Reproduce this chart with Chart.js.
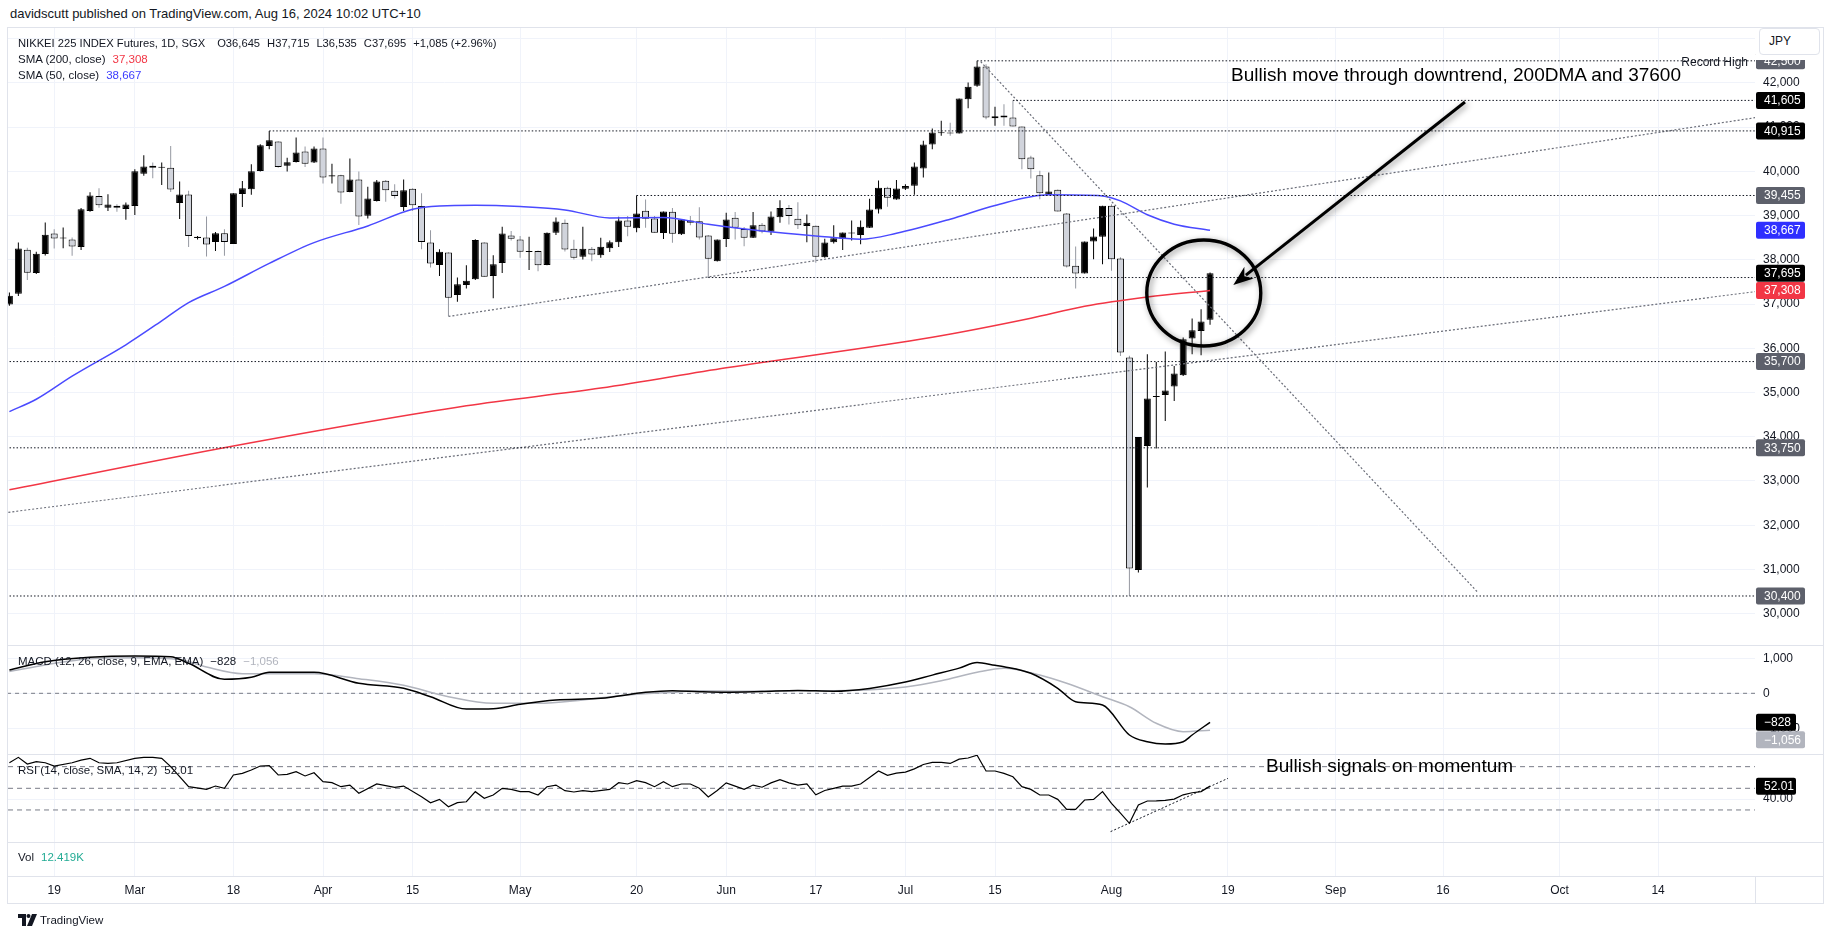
<!DOCTYPE html>
<html><head><meta charset="utf-8">
<script src="https://cdn.jsdelivr.net/npm/chart.js@4.4.1/dist/chart.umd.min.js"></script>
<style>
html,body{margin:0;padding:0;background:#fff;width:1835px;height:939px;overflow:hidden;font-family:"Liberation Sans",Arial,sans-serif;color:#131722}
.abs{position:absolute;white-space:nowrap}
canvas{position:absolute}
.sep{position:absolute;left:8px;width:1815px;height:1px;background:#e0e3eb}
.lg{font-size:11.5px;line-height:14px}
.g{margin-left:7px}
</style></head><body>

<div class="abs" style="left:10px;top:6px;font-size:13px;line-height:16px">davidscutt published on TradingView.com, Aug 16, 2024 10:02 UTC+10</div>

<canvas id="cMain" width="1815" height="617" style="left:8px;top:28px"></canvas>
<canvas id="cMacd" width="1815" height="109" style="left:8px;top:645px"></canvas>
<canvas id="cRsi" width="1815" height="88" style="left:8px;top:754px"></canvas>
<canvas id="cVol" width="1815" height="61" style="left:8px;top:842px"></canvas>

<div class="abs" style="left:7px;top:27px;width:1817px;height:877px;border:1px solid #e0e3eb;box-sizing:border-box"></div>
<div class="sep" style="top:645px"></div>
<div class="sep" style="top:754px"></div>
<div class="sep" style="top:842px"></div>
<div class="sep" style="top:876px"></div>
<div class="abs" style="left:1755px;top:876px;width:1px;height:27px;background:#e0e3eb"></div>

<div class="abs" style="left:1756px;top:28px;width:66px;height:32px;background:#fff"></div>
<div class="abs" style="left:1759px;top:28px;width:61px;height:27px;border:1px solid #e0e3eb;border-radius:4px;box-sizing:border-box;font-size:12px;line-height:25px;padding-left:9px;background:#fff">JPY</div>

<div class="abs lg" style="left:18px;top:36px;font-size:11.2px">NIKKEI 225 INDEX Futures, 1D, SGX<span style="margin-left:12px">O36,645</span><span class="g">H37,715</span><span class="g">L36,535</span><span class="g">C37,695</span><span class="g">+1,085 (+2.96%)</span></div>
<div class="abs lg" style="left:18px;top:52px">SMA (200, close)<span class="g" style="color:#f23645">37,308</span></div>
<div class="abs lg" style="left:18px;top:68px">SMA (50, close)<span class="g" style="color:#3c3cff">38,667</span></div>
<div class="abs" style="right:87px;top:55px;font-size:12px;line-height:14px">Record High</div>
<div class="abs" style="left:1231px;top:64px;font-size:19px;line-height:21px;color:#000">Bullish move through downtrend, 200DMA and 37600</div>

<div class="abs lg" style="left:18px;top:654px">MACD (12, 26, close, 9, EMA, EMA)<span class="g">−828</span><span class="g" style="color:#b2b5be">−1,056</span></div>
<div class="abs lg" style="left:18px;top:763px">RSI (14, close, SMA, 14, 2)<span class="g">52.01</span></div>
<div class="abs" style="left:1266px;top:755px;font-size:19px;line-height:21px;color:#000">Bullish signals on momentum</div>
<div class="abs lg" style="left:18px;top:850px">Vol<span class="g" style="color:#22ab94">12.419K</span></div>

<div class="abs" style="left:18px;top:913px;height:14px">
<svg width="20" height="12" viewBox="0 0 20 12" style="position:absolute;left:0;top:1px"><path d="M0 0h8v12H4V4H0z" fill="#131722"/><circle cx="10.5" cy="2" r="2" fill="#131722"/><path d="M14 0h5l-5 12H9z" fill="#131722"/></svg>
<span style="position:absolute;left:22px;top:0px;font-size:11.5px;line-height:14px">TradingView</span>
</div>

<script>
// ---------- DATA ----------
const OPEN = [36990,37235,38230,37705,38135,38595,38480,38460,38290,39105,
39445,39180,39225,39150,39220,39945,40130,40080,40085,39285,
39475,38495,38505,38405,38600,38360,39490,39595,40010,40575,
40675,40125,40215,40450,40200,40515,39885,39915,39535,39815,
38995,39330,39790,39560,39195,39610,39220,38390,37885,38165,
37205,37430,37560,38390,37635,37930,38550,38460,38180,38200,
37885,38615,38840,38250,38070,38250,38105,38265,38400,38890,
38715,39110,38935,38605,39085,38580,38890,38870,38550,37970,
38470,38950,38700,38500,38795,38635,38965,39175,38930,38765,
38770,38060,38400,38475,38595,38560,38725,39140,39630,39365,
39610,39674,40066,40608,40860,40880,40857,41633,41935,42372,
41204,41264,41219,41015,40314,39915,39470,39583,39048,37865,
37692,38415,38521,39222,38029,35790,30989,33793,34900,34946,
35135,35391,36220,36393,36645];
const HIGH = [37260,38390,38275,38185,38845,38690,38730,38505,39175,39530,
39620,39485,39255,39295,40050,40365,40200,40200,40575,39770,
39565,38540,38980,38630,38690,39505,39785,40160,40615,40915,
40680,40310,40765,40560,40560,40765,40175,39925,40290,39995,
39655,39805,39805,39710,39815,39620,39505,38670,38240,38170,
37600,37880,38465,38400,38105,38750,38650,38540,38520,38210,
38620,38955,38910,38455,38750,38290,38500,38440,38975,38990,
39455,39365,38990,39095,39175,38915,38990,39190,38560,38460,
39065,39080,38745,39080,38835,39095,39345,39240,39305,39025,
38775,38475,38780,38620,38890,38890,39380,39795,39650,39805,
39710,40201,40691,40970,41144,41100,41648,42010,42500,42425,
41460,41520,41605,41015,40352,40013,39975,39590,39060,38302,
38415,38709,39222,39259,38060,35830,33994,35866,35692,35926,
35602,36243,36672,36883,37715];
const LOW = [36960,37185,37545,37680,38100,38255,38260,38090,38225,39085,
39180,39105,39090,38905,39015,39900,39845,39695,39535,38925,
38290,38460,38075,38200,38090,38360,39195,39470,40000,40500,
40085,39995,40200,40100,40190,39725,39725,39270,39530,38790,
38935,39320,39315,39385,39105,39105,38240,37825,37635,36730,
37050,37350,37545,37620,37130,37705,38440,38045,37770,37740,
37880,38560,38190,38010,38010,37970,38045,38175,38290,38535,
38625,38725,38610,38470,38385,38560,38780,38460,37600,37965,
38290,38460,38310,38495,38600,38560,38840,38800,38700,38400,
37935,38050,38370,38220,38440,38350,38720,39050,39200,39360,
39580,39470,39862,40503,40804,40804,40857,41430,41912,41181,
41030,41030,41015,40051,39839,39372,39470,39093,37827,37352,
37692,38015,37903,37752,35828,30400,30929,32851,33733,34358,
34810,35376,35866,35843,36535];
const CLOSE = [37190,38255,37710,38140,38570,38480,38495,38300,39145,39455,
39235,39250,39180,39250,40005,40110,40080,40090,39590,39475,
38540,38525,38345,38600,38405,39505,39620,40005,40590,40705,
40100,40205,40425,40175,40515,39860,39915,39520,39815,38980,
39385,39770,39575,39445,39575,39235,38405,37915,38185,37145,
37450,37530,38450,37620,37900,38595,38475,38185,38195,37880,
38615,38865,38235,38045,38250,38120,38295,38400,38890,38750,
39050,38930,38610,39095,38590,38915,38840,38505,38025,38460,
38915,38725,38500,38780,38640,38980,39175,38990,38780,38840,
38070,38395,38490,38620,38600,38750,39140,39630,39405,39615,
39670,40111,40608,40880,40880,40857,41648,41912,42372,41219,
41249,41219,41015,40277,40051,39508,39546,39093,37850,37692,
38415,38528,39222,38016,35903,31019,33994,34863,34910,35044,
35428,36205,36408,36604,37695];

const SMA200_IDX = [0,25,51,66,80,103,114,120,127,134];
const SMA200_VAL = [32800,33790,34700,35100,35560,36250,36680,36950,37160,37308];
const SMA50_IDX = [0,3,7,13,17,20,24,29,34,40,45,48,52,57,62,67,73,78,84,90,95,99,105,110,116,122,124,127,130,134];
const SMA50_VAL = [34570,34848,35370,36080,36620,37034,37400,37920,38390,38767,39144,39219,39234,39204,39129,38949,38956,38805,38655,38542,38466,38600,38920,39230,39470,39446,39333,39020,38807,38667];

const MACD_IDX = [0,4,9,14,18,20,24,27,29,34,39,44,47,51,54,57,61,66,71,74,77,80,84,88,92,96,100,103,106,108,110,111,114,117,119,122,125,127,129,131,132,134];
const MACD_VAL = [666,903,1029,1066,1047,857,400,457,600,600,286,143,-97,-449,-440,-314,-191,-143,29,74,46,30,50,80,60,140,320,520,720,880,800,760,571,143,-240,-334,-1191,-1383,-1449,-1383,-1191,-828];
const SIGNAL_IDX = [0,4,9,14,19,22,26,34,39,44,49,54,59,64,69,74,77,82,88,94,100,104,108,111,115,118,122,125,128,131,134];
const SIGNAL_VAL = [619,810,990,1019,964,752,562,562,419,229,-97,-286,-286,-190,-48,29,74,60,70,80,180,360,600,713,523,286,-97,-383,-857,-1097,-1056];

const RSI_IDX = [0,1,2,3,4,5,7,8,9,10,11,12,14,15,16,17,18,20,22,23,24,25,26,27,28,29,30,31,32,33,34,35,36,37,38,39,41,43,44,46,47,48,49,50,51,52,53,54,55,56,57,58,59,60,61,62,63,64,65,67,68,69,70,71,72,73,74,75,76,77,78,79,80,81,82,83,84,85,86,87,88,89,90,91,92,93,94,95,96,97,98,99,100,101,102,103,104,105,106,107,108,109,110,111,112,113,114,115,116,117,118,119,120,121,122,123,124,125,126,127,128,129,130,131,132,133,134];
const RSI_VAL = [73.6,78.6,72.4,74.6,73.6,70.6,73.6,76.1,77.7,73.6,73.1,73.6,77.7,78.6,78.6,77.7,70.0,51.5,49.0,52.1,50.0,62.3,63.8,66.9,70.6,70.9,62.3,62.9,65.3,61.4,64.4,56.1,55.2,51.5,53.0,45.4,54.0,50.9,52.1,42.2,36.7,39.8,33.0,36.7,37.6,46.9,40.8,43.8,50.0,49.0,46.9,46.9,43.8,51.5,53.0,47.8,46.6,47.8,46.9,49.0,55.2,54.0,57.0,55.2,51.5,56.1,51.5,54.0,54.0,50.0,42,48,55,52,49,53,51,55,58,55,53,54,44,48,50,52,52,54,60,66,62,64,65,68,72,74,74,73,77,78,80.5,66,66,63.8,60.7,51.5,49,43.8,43.8,39.8,30.6,30.6,39.2,39.8,46.9,36,27,17.7,34.6,38.3,38.4,38.8,40,44,45.9,47,52.01];

const TIME_TICK_IDX = [5,14,25,35,45,57,70,80,90,100,110,123,136,148,160,173,184];
const TIME_TICK_LABELS = ['19','Mar','18','Apr','15','May','20','Jun','17','Jul','15','Aug','19','Sep','16','Oct','14'];
const PRICE_TICKS = [30000,31000,32000,33000,34000,35000,36000,37000,38000,39000,40000,41000,42000,43000];
const MACD_TICKS = [-1000,0,1000];
const RSI_TICKS = [40];
const RSI_BANDS = [70,50,30];

const LEVEL_VALUES = [42500,41605,40915,39455,37600,35700,33750,30400];
const LEVEL_START_IDX = [108,112,29,70,78,-1,-1,-1];
const TRENDLINES = [
  [[108.4,42480],[163.8,30500]],
  [[49,36720],[196,41250]],
  [[-1,32270],[196,37310]]
];
const RSI_TREND = [[122.9,10],[136,59.2]];

const PRICE_TAG_VALUES = [42500,41605,40915,39455,38667,37695,37308,35700,33750,30400];
const PRICE_TAG_COLORS = ['#5d606b','#000000','#000000','#5d606b','#2f2fff','#000000','#f23645','#5d606b','#5d606b','#5d606b'];
const CIRCLE_AT = [133.3,37250];
const ARROW_FROM = [162.45,41569];
const ARROW_TO = [136.6,37431];

// ---------- CONFIG ----------
const X_MIN = -0.156, X_MAX = 194.82;
const FONT = {family:'"Liberation Sans", Arial, sans-serif', size:12};
const fmt = v => v.toLocaleString('en-US');
const fmtNeg = v => (v<0?'−':'') + Math.abs(v).toLocaleString('en-US');

function xScale(showLabels, h){
  return {
    type:'linear', min:X_MIN, max:X_MAX, offset:false,
    grid:{color:'#f0f3fa', drawTicks:false, offset:false, lineWidth:1},
    border:{display:false},
    ticks:{display:showLabels, autoSkip:false, maxRotation:0, padding:7, font:FONT, color:'#131722',
      callback:(v,i)=>TIME_TICK_LABELS[i]},
    afterBuildTicks:s=>{s.ticks = TIME_TICK_IDX.map(v=>({value:v}));},
    afterFit:s=>{s.height = h; s.paddingLeft = 0; s.paddingRight = 0; s.paddingTop = 0; s.paddingBottom = 0;}
  };
}
function yScale(min,max,ticks,cb,show){
  return {
    position:'right', min, max,
    grid:{color:'#f0f3fa', drawTicks:false, lineWidth:1},
    border:{display:false},
    ticks:{display:show!==false, padding:8, font:FONT, color:'#131722', callback:cb},
    afterBuildTicks:s=>{s.ticks = ticks.map(v=>({value:v}));},
    afterFit:s=>{s.width = 68; s.paddingTop = 0; s.paddingBottom = 0; s.paddingLeft = 0; s.paddingRight = 0;}
  };
}
const baseOpts = {responsive:false, animation:false, events:[], layout:{padding:0},
  plugins:{legend:{display:false}, tooltip:{enabled:false}}};

function lineDs(pts, color, width, dash, order, extra){
  return Object.assign({type:'line', data:pts.map(p=>({x:p[0], y:p[1]})), borderColor:color,
    borderWidth:width, borderDash:dash||[], pointRadius:0, fill:false, order:order}, extra||{});
}
function tag(ctx, x, y, w, text, bg, fg){
  ctx.fillStyle = bg;
  ctx.beginPath();
  if (ctx.roundRect) ctx.roundRect(x, y-8.5, w, 17, 2); else ctx.rect(x, y-8.5, w, 17);
  ctx.fill();
  ctx.fillStyle = fg; ctx.font = '12px "Liberation Sans", Arial, sans-serif';
  ctx.textBaseline = 'middle'; ctx.textAlign = 'left';
  ctx.fillText(text, x+8, y+0.5);
}

// ---------- MAIN PRICE PANE ----------
const up = OPEN.map((o,i)=>CLOSE[i]>=o);
const datasets = [
  {type:'bar', data:OPEN.map((o,i)=>({x:i, y:[o, CLOSE[i]]})), backgroundColor:up.map(u=>u?'#000000':'#d1d4dc'),
   borderColor:'#000000', borderWidth:1, borderSkipped:false, barThickness:7, minBarLength:1, grouped:false, inflateAmount:0, order:1},
  {type:'bar', data:LOW.map((l,i)=>({x:i, y:[l, HIGH[i]]})), backgroundColor:up.map(u=>u?'#000000':'#9598a1'),
   borderWidth:0, barThickness:1, grouped:false, inflateAmount:0, order:2},
  lineDs(SMA200_IDX.map((x,i)=>[x,SMA200_VAL[i]]), '#f23645', 1.5, null, 0, {cubicInterpolationMode:'monotone'}),
  lineDs(SMA50_IDX.map((x,i)=>[x,SMA50_VAL[i]]), '#4a4aff', 1.5, null, 0, {cubicInterpolationMode:'monotone'})
];
LEVEL_VALUES.forEach((v,i)=>{
  const s = LEVEL_START_IDX[i] < 0 ? X_MIN-1 : LEVEL_START_IDX[i];
  datasets.push(lineDs([[s,v],[X_MAX+1,v]], '#131722', 1, [1.5,2], -1));
});
TRENDLINES.forEach(t=>datasets.push(lineDs(t, '#6a6d78', 1.2, [2,2], -1)));

const mainOverlay = {
  id:'mainOverlay',
  afterDraw(chart){
    const {ctx, chartArea:a} = chart; const xs = chart.scales.x, ys = chart.scales.y;
    ctx.save();
    ctx.beginPath(); ctx.rect(a.left, a.top, a.right-a.left, a.bottom-a.top); ctx.clip();
    ctx.shadowColor = 'rgba(0,0,0,0.45)'; ctx.shadowBlur = 6; ctx.shadowOffsetX = 2; ctx.shadowOffsetY = 2;
    ctx.strokeStyle = '#000'; ctx.fillStyle = '#000'; ctx.lineWidth = 3.4;
    ctx.beginPath();
    ctx.ellipse(xs.getPixelForValue(CIRCLE_AT[0]), ys.getPixelForValue(CIRCLE_AT[1]), 57, 53, 0, 0, Math.PI*2);
    ctx.stroke();
    const x1 = xs.getPixelForValue(ARROW_FROM[0]), y1 = ys.getPixelForValue(ARROW_FROM[1]);
    const x2 = xs.getPixelForValue(ARROW_TO[0]), y2 = ys.getPixelForValue(ARROW_TO[1]);
    const ang = Math.atan2(y2-y1, x2-x1), hl = 20, hw = 7.5;
    const cs = Math.cos(ang), sn = Math.sin(ang);
    ctx.lineWidth = 3;
    ctx.beginPath(); ctx.moveTo(x1,y1); ctx.lineTo(x2 - (hl-4)*cs, y2 - (hl-4)*sn); ctx.stroke();
    const bx = x2 - hl*cs, by = y2 - hl*sn;
    ctx.beginPath(); ctx.moveTo(x2,y2);
    ctx.lineTo(bx + hw*sn, by - hw*cs);
    ctx.lineTo(x2 - (hl-6)*cs, y2 - (hl-6)*sn);
    ctx.lineTo(bx - hw*sn, by + hw*cs);
    ctx.closePath(); ctx.fill();
    ctx.restore();
    ctx.save();
    PRICE_TAG_VALUES.forEach((v,i)=>{
      tag(ctx, ys.left+1, ys.getPixelForValue(v), 49, fmt(v), PRICE_TAG_COLORS[i], '#ffffff');
    });
    ctx.restore();
  }
};

new Chart(document.getElementById('cMain'), {
  type:'bar', data:{datasets},
  options:Object.assign({}, baseOpts, {scales:{x:xScale(false,0), y:yScale(29292,43242,PRICE_TICKS,fmt)}}),
  plugins:[mainOverlay]
});

// ---------- MACD PANE ----------
const macdOverlay = {
  id:'macdOverlay',
  afterDraw(chart){
    const {ctx} = chart; const ys = chart.scales.y;
    ctx.save();
    tag(ctx, ys.left+1, ys.getPixelForValue(MACD_VAL[MACD_VAL.length-1]), 40, fmtNeg(MACD_VAL[MACD_VAL.length-1]), '#000000', '#ffffff');
    tag(ctx, ys.left+1, ys.getPixelForValue(SIGNAL_VAL[SIGNAL_VAL.length-1]) + 9.5, 49, fmtNeg(SIGNAL_VAL[SIGNAL_VAL.length-1]), '#b2b5be', '#ffffff');
    ctx.restore();
  }
};
new Chart(document.getElementById('cMacd'), {
  type:'line',
  data:{datasets:[
    lineDs(MACD_IDX.map((x,i)=>[x,MACD_VAL[i]]), '#000000', 1.5, null, 0, {cubicInterpolationMode:'monotone'}),
    lineDs(SIGNAL_IDX.map((x,i)=>[x,SIGNAL_VAL[i]]), '#b2b5be', 1.5, null, 1, {cubicInterpolationMode:'monotone'}),
    lineDs([[X_MIN-1,0],[X_MAX+1,0]], '#787b86', 1, [4,4], 2)
  ]},
  options:Object.assign({}, baseOpts, {scales:{x:xScale(false,0), y:yScale(-1734,1380,MACD_TICKS,fmtNeg)}}),
  plugins:[macdOverlay]
});

// ---------- RSI PANE ----------
const rsiOverlay = {
  id:'rsiOverlay',
  afterDraw(chart){
    const {ctx} = chart; const ys = chart.scales.y;
    ctx.save();
    const v = RSI_VAL[RSI_VAL.length-1];
    tag(ctx, ys.left+1, ys.getPixelForValue(v), 40, v.toFixed(2), '#000000', '#ffffff');
    ctx.restore();
  }
};
const rsiSets = [
  lineDs(RSI_IDX.map((x,i)=>[x,RSI_VAL[i]]), '#000000', 1.2, null, 0),
  lineDs(RSI_TREND, '#131722', 1, [2,2], 1)
];
RSI_BANDS.forEach(b=>rsiSets.push(lineDs([[X_MIN-1,b],[X_MAX+1,b]], '#787b86', 1, [5,4], 2)));
new Chart(document.getElementById('cRsi'), {
  type:'line', data:{datasets:rsiSets},
  options:Object.assign({}, baseOpts, {scales:{x:xScale(false,0), y:yScale(0.4,81.7,RSI_TICKS,v=>v.toFixed(2))}}),
  plugins:[rsiOverlay]
});

// ---------- VOLUME PANE + TIME AXIS ----------
new Chart(document.getElementById('cVol'), {
  type:'line', data:{datasets:[{data:[], pointRadius:0}]},
  options:Object.assign({}, baseOpts, {scales:{x:xScale(true,27), y:yScale(0,1,[],()=>'' ,false)}})
});
</script>
</body></html>
